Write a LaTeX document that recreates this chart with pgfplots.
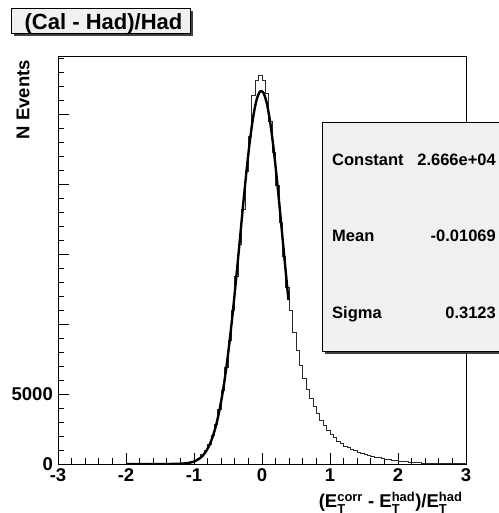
\documentclass[border=0pt]{standalone}
\usepackage{fontspec}
\setmainfont{Liberation Sans}
\usepackage{amsmath}
\usepackage{pgfplots}
\pgfplotsset{compat=1.18}

\definecolor{boxgray}{HTML}{F0F0F0}
\definecolor{histline}{HTML}{2A2A2A}
\definecolor{shadow}{HTML}{404040}

\newcommand{\ET}[1]{E$_{\text{T}}^{\text{#1}}$}

\begin{document}
\begin{tikzpicture}
\begin{axis}[
    at={(58bp,49bp)}, anchor=south west,
    scale only axis, width=408bp, height=407.3bp,
    xmin=-3, xmax=3, ymin=0, ymax=29100,
    tick pos=left, tick align=inside,
    xtick={-3,-2,-1,0,1,2,3},
    xticklabels={-3,-2,-1,0,1,2,3},
    minor xtick={-2.8,-2.6,-2.4,-2.2,-1.8,-1.6,-1.4,-1.2,-0.8,-0.6,-0.4,-0.2,
                 0.2,0.4,0.6,0.8,1.2,1.4,1.6,1.8,2.2,2.4,2.6,2.8},
    ytick={0,5000,10000,15000,20000,25000},
    yticklabels={0,5000,,,,},
    minor ytick={1000,2000,3000,4000,6000,7000,8000,9000,11000,12000,13000,14000,
                 16000,17000,18000,19000,21000,22000,23000,24000,26000,27000,28000,29000},
    major tick length=11bp, minor tick length=6bp,
    every tick/.style={black, line width=0.8bp},
    axis line style={line width=0.8bp},
    ticklabel style={font=\bfseries\fontsize{18.5bp}{20bp}\selectfont},
    xticklabel style={inner sep=2.5bp, yshift=-2bp},
    yticklabel style={inner sep=2.5bp, xshift=-2.5bp},
    scaled y ticks=false,
]
% histogram, bin lower edges (width 0.05)
\addplot[const plot, histline, line width=0.7bp] coordinates {
(-3,0) (-1.55,1) (-1.50,2) (-1.45,3) (-1.40,5) (-1.35,8) (-1.30,13) (-1.25,22)
(-1.20,36) (-1.15,60) (-1.10,100) (-1.05,165) (-1.00,270) (-0.95,430) (-0.90,660)
(-0.85,980) (-0.80,1420) (-0.75,2020) (-0.70,2850) (-0.65,3900) (-0.60,5250)
(-0.55,6900) (-0.50,8800) (-0.45,11000) (-0.40,13400) (-0.35,15700) (-0.30,18200)
(-0.25,20900) (-0.20,23400) (-0.15,26350) (-0.10,27430) (-0.05,27790) (0.00,27380)
(0.05,26480) (0.10,24500) (0.15,22300) (0.20,19900) (0.25,17300) (0.30,14800)
(0.35,12600) (0.40,11000) (0.45,9400) (0.50,8100) (0.55,7050) (0.60,6150)
(0.65,5350) (0.70,4700) (0.75,4150) (0.80,3620) (0.85,3150) (0.90,2750)
(0.95,2430) (1.00,2150) (1.05,1880) (1.10,1650) (1.15,1460) (1.20,1290)
(1.25,1160) (1.30,1040) (1.35,940) (1.40,850) (1.45,770) (1.50,690) (1.55,620)
(1.60,555) (1.65,495) (1.70,440) (1.75,390) (1.80,345) (1.85,305) (1.90,270)
(1.95,240) (2.00,210) (2.05,185) (2.10,160) (2.15,140) (2.20,122) (2.25,106)
(2.30,92) (2.35,80) (2.40,69) (2.45,60) (2.50,52) (2.55,45) (2.60,39) (2.65,33)
(2.70,28) (2.75,24) (2.80,20) (2.85,17) (2.90,14) (2.95,12) (3.00,12)
};
% gaussian fit
\addplot[black, line width=2.4bp, smooth] coordinates {
(-2.0,0) (-1.6,0.1) (-1.475,0.5) (-1.425,0.9) (-1.375,1.9) (-1.325,3.8) (-1.275,7.4)
(-1.225,13.9) (-1.175,25.6) (-1.125,45.9) (-1.075,80) (-1.025,137) (-0.975,227)
(-0.925,367) (-0.875,579) (-0.825,890) (-0.775,1334) (-0.725,1950) (-0.675,2776)
(-0.625,3852) (-0.575,5210) (-0.525,6870) (-0.475,8830) (-0.425,11059)
(-0.375,13502) (-0.325,16067) (-0.275,18635) (-0.225,21067) (-0.175,23215)
(-0.125,24933) (-0.075,26101) (-0.025,26632) (0.025,26486) (0.075,25675)
(0.125,24258) (0.175,22340) (0.225,20054) (0.275,17545) (0.325,14961)
(0.375,12436) (0.39,11706)
};
\end{axis}

% axis titles
\node[rotate=90, anchor=base east, font=\bfseries\fontsize{18.5bp}{20bp}\selectfont]
  at (29.3bp,456.3bp) {N Events};
\node[anchor=base east, font=\bfseries\fontsize{18.5bp}{20bp}\selectfont]
  at (466bp,5.5bp) {(\ET{corr} - \ET{had})/\ET{had}};

% title box
\fill[shadow] (14.2bp,477.2bp) rectangle (192.5bp,502.2bp);
\draw[fill=boxgray, line width=0.8bp] (11.7bp,479.7bp) rectangle (190bp,504.7bp);
\node[anchor=base, font=\bfseries\fontsize{22bp}{24bp}\selectfont]
  at (103.5bp,483bp) {(Cal - Had)/Had};

% fit statistics box
\fill[shadow] (325.2bp,158.8bp) rectangle (510bp,387.8bp);
\draw[fill=boxgray, line width=0.8bp] (322.7bp,161.3bp) rectangle (505bp,390.3bp);
\begin{scope}[every node/.style={font=\bfseries\fontsize{16.5bp}{18bp}\selectfont, inner sep=0pt}]
\node[anchor=base west] at (332bp,347.3bp) {Constant};
\node[anchor=base east] at (496bp,347.3bp) {2.666e+04};
\node[anchor=base west] at (332bp,271.3bp) {Mean};
\node[anchor=base east] at (496bp,271.3bp) {-0.01069};
\node[anchor=base west] at (332bp,194.7bp) {Sigma};
\node[anchor=base east] at (496bp,194.7bp) {0.3123};
\end{scope}

\pgfresetboundingbox
\useasboundingbox (0,0) rectangle (499bp,513bp);
\end{tikzpicture}
\end{document}
